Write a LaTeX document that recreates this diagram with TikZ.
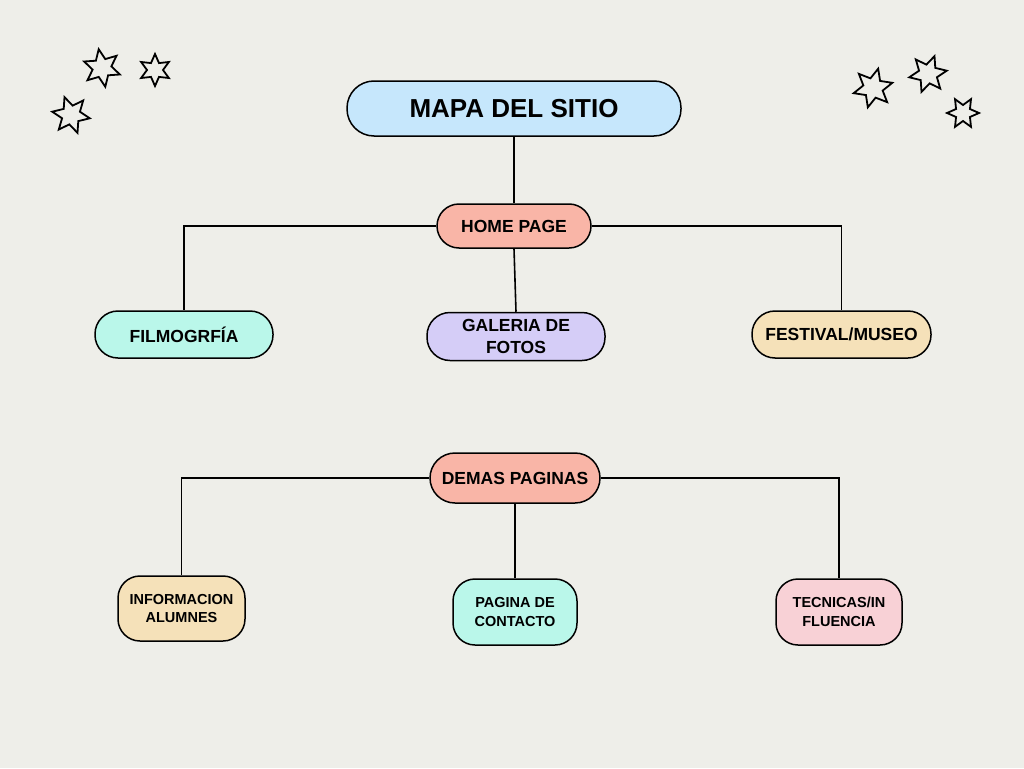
\documentclass[tikz,border=0pt]{standalone}
\usepackage{fontspec}
\setmainfont{Liberation Sans}
\usetikzlibrary{calc,backgrounds}
\definecolor{bgc}{HTML}{EEEEE9}
\definecolor{cblue}{HTML}{C6E7FC}
\definecolor{csalmon}{HTML}{F9B5A7}
\definecolor{cmint}{HTML}{BAF7EA}
\definecolor{clav}{HTML}{D5CDF7}
\definecolor{cbeige}{HTML}{F5E1B9}
\definecolor{cpink}{HTML}{F8D1D6}
\newcommand{\mystarshape}[4]{%
  \draw[starline] ($(#1,#2)+(#4:#3)$)
    \foreach \i in {1,...,11}{ -- ($(#1,#2)+({#4+\i*30}:{ifthenelse(mod(\i,2)==0,#3,0.5*#3)})$)} -- cycle;}
\tikzset{
  box/.style={draw=black, line width=1.5pt, rounded corners=#1, align=center, inner sep=0pt,
              font=\bfseries, text=black},
  box/.default=22pt,
  conn/.style={draw=black, line width=1.6pt},
  starline/.style={draw=black, line width=1.8pt, line join=miter, fill=bgc},
}
\begin{document}
\begin{tikzpicture}[x=1pt,y=-1pt]
\useasboundingbox (0,0) rectangle (1024,768);
% nodes
\node[box=27pt, fill=cblue, minimum width=334pt, minimum height=55pt, font=\bfseries\fontsize{26}{30}\selectfont] (mapa) at (514,108.5) {MAPA DEL SITIO};
\node[box=22pt, fill=csalmon, minimum width=154pt, minimum height=44pt, font=\bfseries\fontsize{17.5}{21}\selectfont] (home) at (514,226) {HOME PAGE};
\node[box=23pt, fill=cmint, minimum width=178pt, minimum height=47pt, font=\bfseries\fontsize{17.5}{21}\selectfont] (filmo) at (184,334.5) {FILMOGRFÍA};
\node[box=23pt, fill=clav, minimum width=178pt, minimum height=48pt, font=\bfseries\fontsize{17.5}{22}\selectfont] (gal) at (516,336.5) {GALERIA DE\\FOTOS};
\node[box=23pt, fill=cbeige, minimum width=179pt, minimum height=47pt, font=\bfseries\fontsize{17.5}{21}\selectfont] (fest) at (841.5,334.5) {FESTIVAL/MUSEO};
\node[box=25pt, fill=csalmon, minimum width=170pt, minimum height=50pt, font=\bfseries\fontsize{17.5}{21}\selectfont] (demas) at (515,478) {DEMAS PAGINAS};
\node[box=22pt, fill=cbeige, minimum width=127pt, minimum height=65pt, font=\bfseries\fontsize{14.5}{18}\selectfont] (info) at (181.5,608.5) {INFORMACION\\ALUMNES};
\node[box=22pt, fill=cmint, minimum width=124pt, minimum height=66pt, font=\bfseries\fontsize{14.5}{19}\selectfont] (cont) at (515,612) {PAGINA DE\\CONTACTO};
\node[box=22pt, fill=cpink, minimum width=126pt, minimum height=66pt, font=\bfseries\fontsize{14.5}{19}\selectfont] (tec) at (839,612) {TECNICAS/IN\\FLUENCIA};
% background and connectors
\begin{scope}[on background layer]
\fill[bgc] (0,0) rectangle (1024,768);
\draw[conn] (mapa.south) -- (home.north);
\draw[conn] (home.west) -| (filmo.north);
\draw[conn] (home.east) -| (fest.north);
\draw[conn] (home.south) -- (gal.north);
\draw[conn] (demas.west) -| (info.north);
\draw[conn] (demas.east) -| (tec.north);
\draw[conn] (demas.south) -- (cont.north);
\end{scope}
% stars
\mystarshape{102}{68}{19}{-100}
\mystarshape{155}{70}{16}{-90}
\mystarshape{71}{115}{19}{-110}
\mystarshape{873}{88}{20}{-75}
\mystarshape{928}{74}{19}{-70}
\mystarshape{963}{113}{16}{-60}
\end{tikzpicture}
\end{document}
